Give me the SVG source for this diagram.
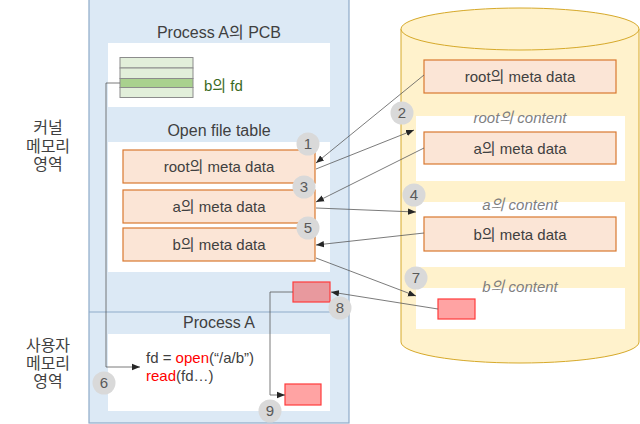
<svg xmlns="http://www.w3.org/2000/svg" width="640" height="424" viewBox="0 0 640 424">
<style>
text{font-family:"Liberation Sans","Noto Sans CJK KR",sans-serif;fill:#404040;font-size:15px}
.c{text-anchor:middle}
.t{font-size:16px}
.it{font-style:italic;fill:#7f7f7f}
.meta{fill:#fbe5d6;stroke:#d9782f;stroke-width:1.2}
.wb{fill:#fff}
.num circle{fill:#d9d9d9}
.num text{font-size:15px;fill:#595959;text-anchor:middle}
.red{fill:#ffa3a3;stroke:#ff3b3b;stroke-width:1.2}
.red2{fill:#e8999e;stroke:#ff3b3b;stroke-width:1.2}
.ln{fill:none;stroke:#595959;stroke-width:0.8}
.red-t{fill:#ff0000}
</style>
<defs>
<marker id="ah" viewBox="0 0 8 8" refX="8" refY="4" markerWidth="8" markerHeight="8" markerUnits="userSpaceOnUse" orient="auto">
<path d="M0,0.8 L8,4 L0,7.2 z" fill="#262626"/>
</marker>
</defs>

<g id="label-kernel">
<text class="c t" x="48" y="133">커널</text>
<text class="c t" x="48" y="152">메모리</text>
<text class="c t" x="48" y="170">영역</text>
</g>
<g id="label-user">
<text class="c t" x="48" y="351">사용자</text>
<text class="c t" x="48" y="369">메모리</text>
<text class="c t" x="48" y="387">영역</text>
</g>

<g id="memory">
<rect x="89" y="-1" width="260" height="424" fill="#dce9f5" stroke="#8eabc9" stroke-width="1.2"/>
<line x1="89" y1="312" x2="349" y2="312" stroke="#8eabc9" stroke-width="1.2"/>
</g>

<g id="pcb">
<text class="c t" x="219" y="38">Process A의 PCB</text>
<rect class="wb" x="108" y="43" width="222" height="64"/>
<rect x="120" y="57.5" width="73" height="10.5" fill="#e2efda" stroke="#8c8c8c" stroke-width="1"/>
<rect x="120" y="68" width="73" height="10.5" fill="#e2efda" stroke="#8c8c8c" stroke-width="1"/>
<rect x="120" y="78.5" width="73" height="9" fill="#a9d18e" stroke="#8c8c8c" stroke-width="1"/>
<rect x="120" y="87.5" width="73" height="10" fill="#e2efda" stroke="#8c8c8c" stroke-width="1"/>
<text x="204" y="91" style="fill:#3b6a1f">b의 fd</text>
</g>

<g id="open-file-table">
<text class="c t" x="219" y="136">Open file table</text>
<rect class="wb" x="108" y="142" width="222" height="130"/>
</g>
<g id="oft-root"><rect class="meta" x="123" y="150" width="192" height="33"/><text class="c" x="219" y="172">root의 meta data</text></g>
<g id="oft-a"><rect class="meta" x="123" y="190" width="192" height="33"/><text class="c" x="219" y="212">a의 meta data</text></g>
<g id="oft-b"><rect class="meta" x="123" y="228" width="192" height="33"/><text class="c" x="219" y="250">b의 meta data</text></g>
<g id="kernel-buffer"><rect class="red2" x="293" y="282" width="37" height="20"/></g>

<g id="process-a">
<text class="c t" x="219" y="328">Process A</text>
<rect class="wb" x="108" y="334" width="222" height="77"/>
<text x="146" y="363">fd = <tspan class="red-t">open</tspan>(“/a/b”)</text>
<text x="146" y="381"><tspan class="red-t">read</tspan>(fd…)</text>
</g>
<g id="user-buffer"><rect class="red" x="285" y="384" width="36" height="21"/></g>

<g id="disk">
<path d="M401,29 L401,342 A119,21 0 0 0 639,342 L639,29" fill="#fff2cc" stroke="#d6a92a" stroke-width="1"/>
<ellipse cx="520" cy="29" rx="119" ry="21" fill="#fff2cc" stroke="#d6a92a" stroke-width="1"/>
</g>
<g id="disk-root-meta"><rect class="meta" x="424" y="60" width="192" height="33"/><text class="c" x="520" y="82">root의 meta data</text></g>
<g id="root-content">
<rect class="wb" x="416" y="116" width="209" height="65"/>
<text class="c it" x="520" y="123">root의 content</text>
</g>
<g id="disk-a-meta"><rect class="meta" x="424" y="132" width="192" height="32"/><text class="c" x="520" y="154">a의 meta data</text></g>
<g id="a-content">
<rect class="wb" x="416" y="202" width="209" height="65"/>
<text class="c it" x="520" y="210">a의 content</text>
</g>
<g id="disk-b-meta"><rect class="meta" x="424" y="217" width="192" height="34"/><text class="c" x="520" y="240">b의 meta data</text></g>
<g id="b-content">
<rect class="wb" x="416" y="288" width="209" height="41"/>
<text class="c it" x="520" y="292">b의 content</text>
</g>
<g id="disk-data"><rect class="red" x="438" y="299" width="37" height="20"/></g>

<g id="connectors">
<line class="ln" x1="424" y1="75" x2="316" y2="163" marker-end="url(#ah)"/>
<line class="ln" x1="316" y1="169" x2="414" y2="130" marker-end="url(#ah)"/>
<line class="ln" x1="424" y1="148" x2="316" y2="202" marker-end="url(#ah)"/>
<line class="ln" x1="316" y1="208" x2="416" y2="212" marker-end="url(#ah)"/>
<line class="ln" x1="424" y1="233" x2="316" y2="245" marker-end="url(#ah)"/>
<polyline class="ln" points="120,83 106,83 106,367 140,367" marker-end="url(#ah)"/>
<line class="ln" x1="316" y1="258" x2="416" y2="296" marker-end="url(#ah)"/>
<line class="ln" x1="438" y1="309" x2="331" y2="292" marker-end="url(#ah)"/>
<polyline class="ln" points="293,292 270,292 270,395 285,395" marker-end="url(#ah)"/>
</g>

<g id="step-1" class="num"><circle cx="308" cy="144" r="11.5"/><text x="308" y="149">1</text></g>
<g id="step-2" class="num"><circle cx="402" cy="113" r="11.5"/><text x="402" y="118">2</text></g>
<g id="step-3" class="num"><circle cx="304" cy="187" r="11.5"/><text x="304" y="192">3</text></g>
<g id="step-4" class="num"><circle cx="414" cy="195" r="11.5"/><text x="414" y="200">4</text></g>
<g id="step-5" class="num"><circle cx="308" cy="228" r="11.5"/><text x="308" y="233">5</text></g>
<g id="step-6" class="num"><circle cx="104" cy="383" r="11.5"/><text x="104" y="388">6</text></g>
<g id="step-7" class="num"><circle cx="416" cy="278" r="11.5"/><text x="416" y="283">7</text></g>
<g id="step-8" class="num"><circle cx="340" cy="308" r="11.5"/><text x="340" y="313">8</text></g>
<g id="step-9" class="num"><circle cx="270" cy="411" r="11.5"/><text x="270" y="416">9</text></g>
</svg>
